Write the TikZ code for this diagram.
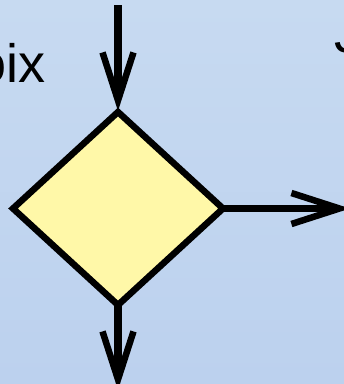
\documentclass[tikz,border=0pt]{standalone}
\usepackage{fontspec}
\setmainfont{Liberation Sans}
\usetikzlibrary{arrows.meta,shapes.geometric}
\definecolor{bgtop}{HTML}{C7DAF1}
\definecolor{bgbot}{HTML}{BCD1EE}
\definecolor{dfill}{HTML}{FFF8A8}
\tikzset{
  flow/.style={line width=7.5pt, -{Straight Barb[length=48pt, width=31pt, line width=6.5pt]}},
  lbl/.style={inner sep=0pt, font=\fontsize{54}{60}\selectfont},
}
\begin{document}
\begin{tikzpicture}[x=1pt,y=-1pt]
\useasboundingbox (0,0) rectangle (344,384);
\clip (0,0) rectangle (344,384);
\shade[top color=bgtop, bottom color=bgbot] (0,0) rectangle (344,384);
\draw[line width=6.5pt, fill=dfill, line join=miter] (118,112) -- (223,208.5) -- (118,305) -- (13,208.5) -- cycle;
\coordinate (top) at (118,111);
\coordinate (bot) at (118,305);
\coordinate (rgt) at (223,208.5);
\coordinate (in) at (118,5);
\coordinate (out) at (118,390);
\coordinate (outr) at (350,208.5);
\draw[flow] (in) -- (top);
\draw[flow] (bot) -- (out);
\draw[flow] (rgt) -- (outr);
\node[lbl, anchor=base east] (choix) at (46,82) {Choix};
\node[lbl, anchor=base west] (jlab) at (334,52) {J};
\end{tikzpicture}
\end{document}
